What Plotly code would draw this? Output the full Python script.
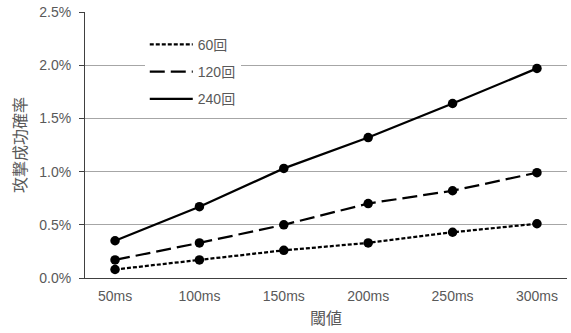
import plotly.graph_objects as go

categories = ["50ms", "100ms", "150ms", "200ms", "250ms", "300ms"]
series_names = ["60回", "120回", "240回"]
values_60 = [0.08, 0.17, 0.26, 0.33, 0.43, 0.51]
values_120 = [0.17, 0.33, 0.50, 0.70, 0.82, 0.99]
values_240 = [0.35, 0.67, 1.03, 1.32, 1.64, 1.97]
y_ticks = [0.0, 0.5, 1.0, 1.5, 2.0, 2.5]

series_values = [values_60, values_120, values_240]
dashes = ["4px,2px", "15px,6px", "solid"]

FONT = "Liberation Sans, Arial, Noto Sans CJK JP, sans-serif"
CJK = "Noto Sans CJK JP, sans-serif"
GREY = "#595959"

fig = go.Figure()
for i, (name, vals, dash) in enumerate(zip(series_names, series_values, dashes)):
    fig.add_trace(go.Scatter(
        x=categories, y=vals, name=name, mode="lines+markers",
        line=dict(color="black", width=2.25, dash=dash),
        marker=dict(color="black", size=9.5, symbol="circle"),
        showlegend=False,
    ))
# legend entries (line only, no markers)
for i, (name, dash) in enumerate(zip(series_names, dashes)):
    fig.add_trace(go.Scatter(
        x=[None], y=[None], name=name, mode="lines",
        line=dict(color="black", width=2.25, dash=dash),
        legendgroup=f"g{i}", showlegend=True,
    ))

fig.update_layout(
    width=571, height=333,
    margin=dict(l=85, r=4, t=12, b=55),
    paper_bgcolor="white", plot_bgcolor="white",
    font=dict(family=FONT, size=14, color=GREY),
    showlegend=True,
    legend=dict(
        x=0.124, y=0.937, xanchor="left", yanchor="top",
        bgcolor="white", font=dict(size=14, color=GREY, family=FONT),
        tracegroupgap=6, itemwidth=43,
    ),
    xaxis=dict(
        type="category", showgrid=False, showline=True, linecolor="#404040", linewidth=1,
        ticks="", tickfont=dict(size=14, color=GREY), automargin=False,
        ticklabelstandoff=5,
        title=dict(text="閾値", font=dict(size=16, color=GREY, family=CJK), standoff=10),
    ),
    yaxis=dict(
        range=[0, 2.5], tickvals=y_ticks, ticktext=[f"{v:.1f}%" for v in y_ticks],
        showgrid=True, gridcolor="#a6a6a6", gridwidth=1,
        showline=True, linecolor="#404040", linewidth=1,
        ticks="outside", ticklen=5, tickcolor="#404040", automargin=False,
        ticklabelstandoff=5,
        tickfont=dict(size=14, color=GREY), zeroline=False,
        title=dict(text="攻撃成功確率", font=dict(size=16, color=GREY, family=CJK), standoff=8),
    ),
)

fig.write_html(
    "out.html",
    config={"displayModeBar": False},
    post_script="document.body.style.margin='0';document.body.style.overflow='hidden';",
)
